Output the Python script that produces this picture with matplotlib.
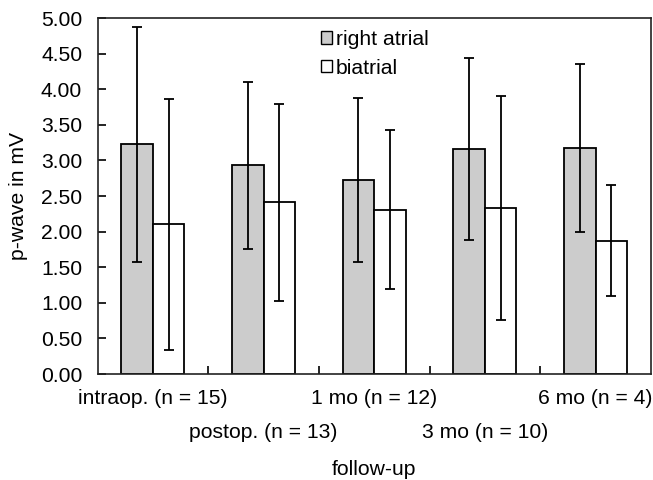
import matplotlib
matplotlib.use("Agg")
import matplotlib.pyplot as plt
import numpy as np
from matplotlib.patches import Patch

plt.rcParams["font.family"] = ["Liberation Sans", "DejaVu Sans"]

# Datos (media y desviacion)
groups = ["intraop. (n = 15)", "postop. (n = 13)", "1 mo (n = 12)",
          "3 mo (n = 10)", "6 mo (n = 4)"]
right_mean = [3.23, 2.93, 2.72, 3.16, 3.18]
right_sd = [1.65, 1.17, 1.15, 1.28, 1.18]
bi_mean = [2.10, 2.41, 2.31, 2.33, 1.87]
bi_sd = [1.76, 1.38, 1.12, 1.57, 0.78]
series_names = ["right atrial", "biatrial"]

fs = 15.2
fig = plt.figure(figsize=(6.53, 4.8), dpi=100)
ax = fig.add_axes([97.5 / 653, 1 - 374 / 480, (651 - 97.5) / 653, (374 - 18) / 480])

x = np.arange(len(groups))
w = 0.285
err_kw = dict(ecolor="black", elinewidth=1.3, capsize=3.3, capthick=1.3)

ax.bar(x - w / 2, right_mean, w, yerr=right_sd, color="#cccccc",
       edgecolor="black", linewidth=1.3, error_kw=err_kw, zorder=2)
ax.bar(x + w / 2, bi_mean, w, yerr=bi_sd, color="white",
       edgecolor="black", linewidth=1.3, error_kw=err_kw, zorder=2)

ax.set_xlim(-0.5, len(groups) - 0.5)
ax.set_ylim(0, 5)
ax.set_yticks(np.arange(0, 5.01, 0.5))
ax.set_yticklabels([f"{v:.2f}" for v in np.arange(0, 5.01, 0.5)], fontsize=fs)

# Etiquetas del eje x escalonadas en dos filas
ax.set_xticks(x)
ax.set_xticklabels(groups, fontsize=fs)
ax.set_xticks(np.arange(0.5, len(groups) - 1, 1), minor=True)
ax.tick_params(axis="x", which="major", length=0)
ax.tick_params(axis="x", which="minor", direction="in", length=5.8, width=1.2)
for i, tick in enumerate(ax.xaxis.get_major_ticks()):
    tick.set_pad(10.5 if i % 2 == 0 else 35.5)
ax.tick_params(axis="y", direction="in", length=5.5, width=1.2, pad=11)

for sp in ax.spines.values():
    sp.set_linewidth(1.2)
    sp.set_color("#222222")

ax.set_ylabel("p-wave in mV", fontsize=fs, labelpad=9)
ax.set_xlabel("follow-up", fontsize=fs, labelpad=13)

handles = [Patch(facecolor="#cccccc", edgecolor="black", linewidth=1.0),
           Patch(facecolor="white", edgecolor="black", linewidth=1.0)]
ax.legend(handles, series_names, loc="upper left",
          bbox_to_anchor=(321 / 653, 1 - 30 / 480), bbox_transform=fig.transFigure,
          frameon=False, fontsize=fs, handlelength=0.5, handleheight=0.5,
          handletextpad=0.2, labelspacing=0.45, borderpad=0, borderaxespad=0)

fig.savefig("out.png", dpi=100)
